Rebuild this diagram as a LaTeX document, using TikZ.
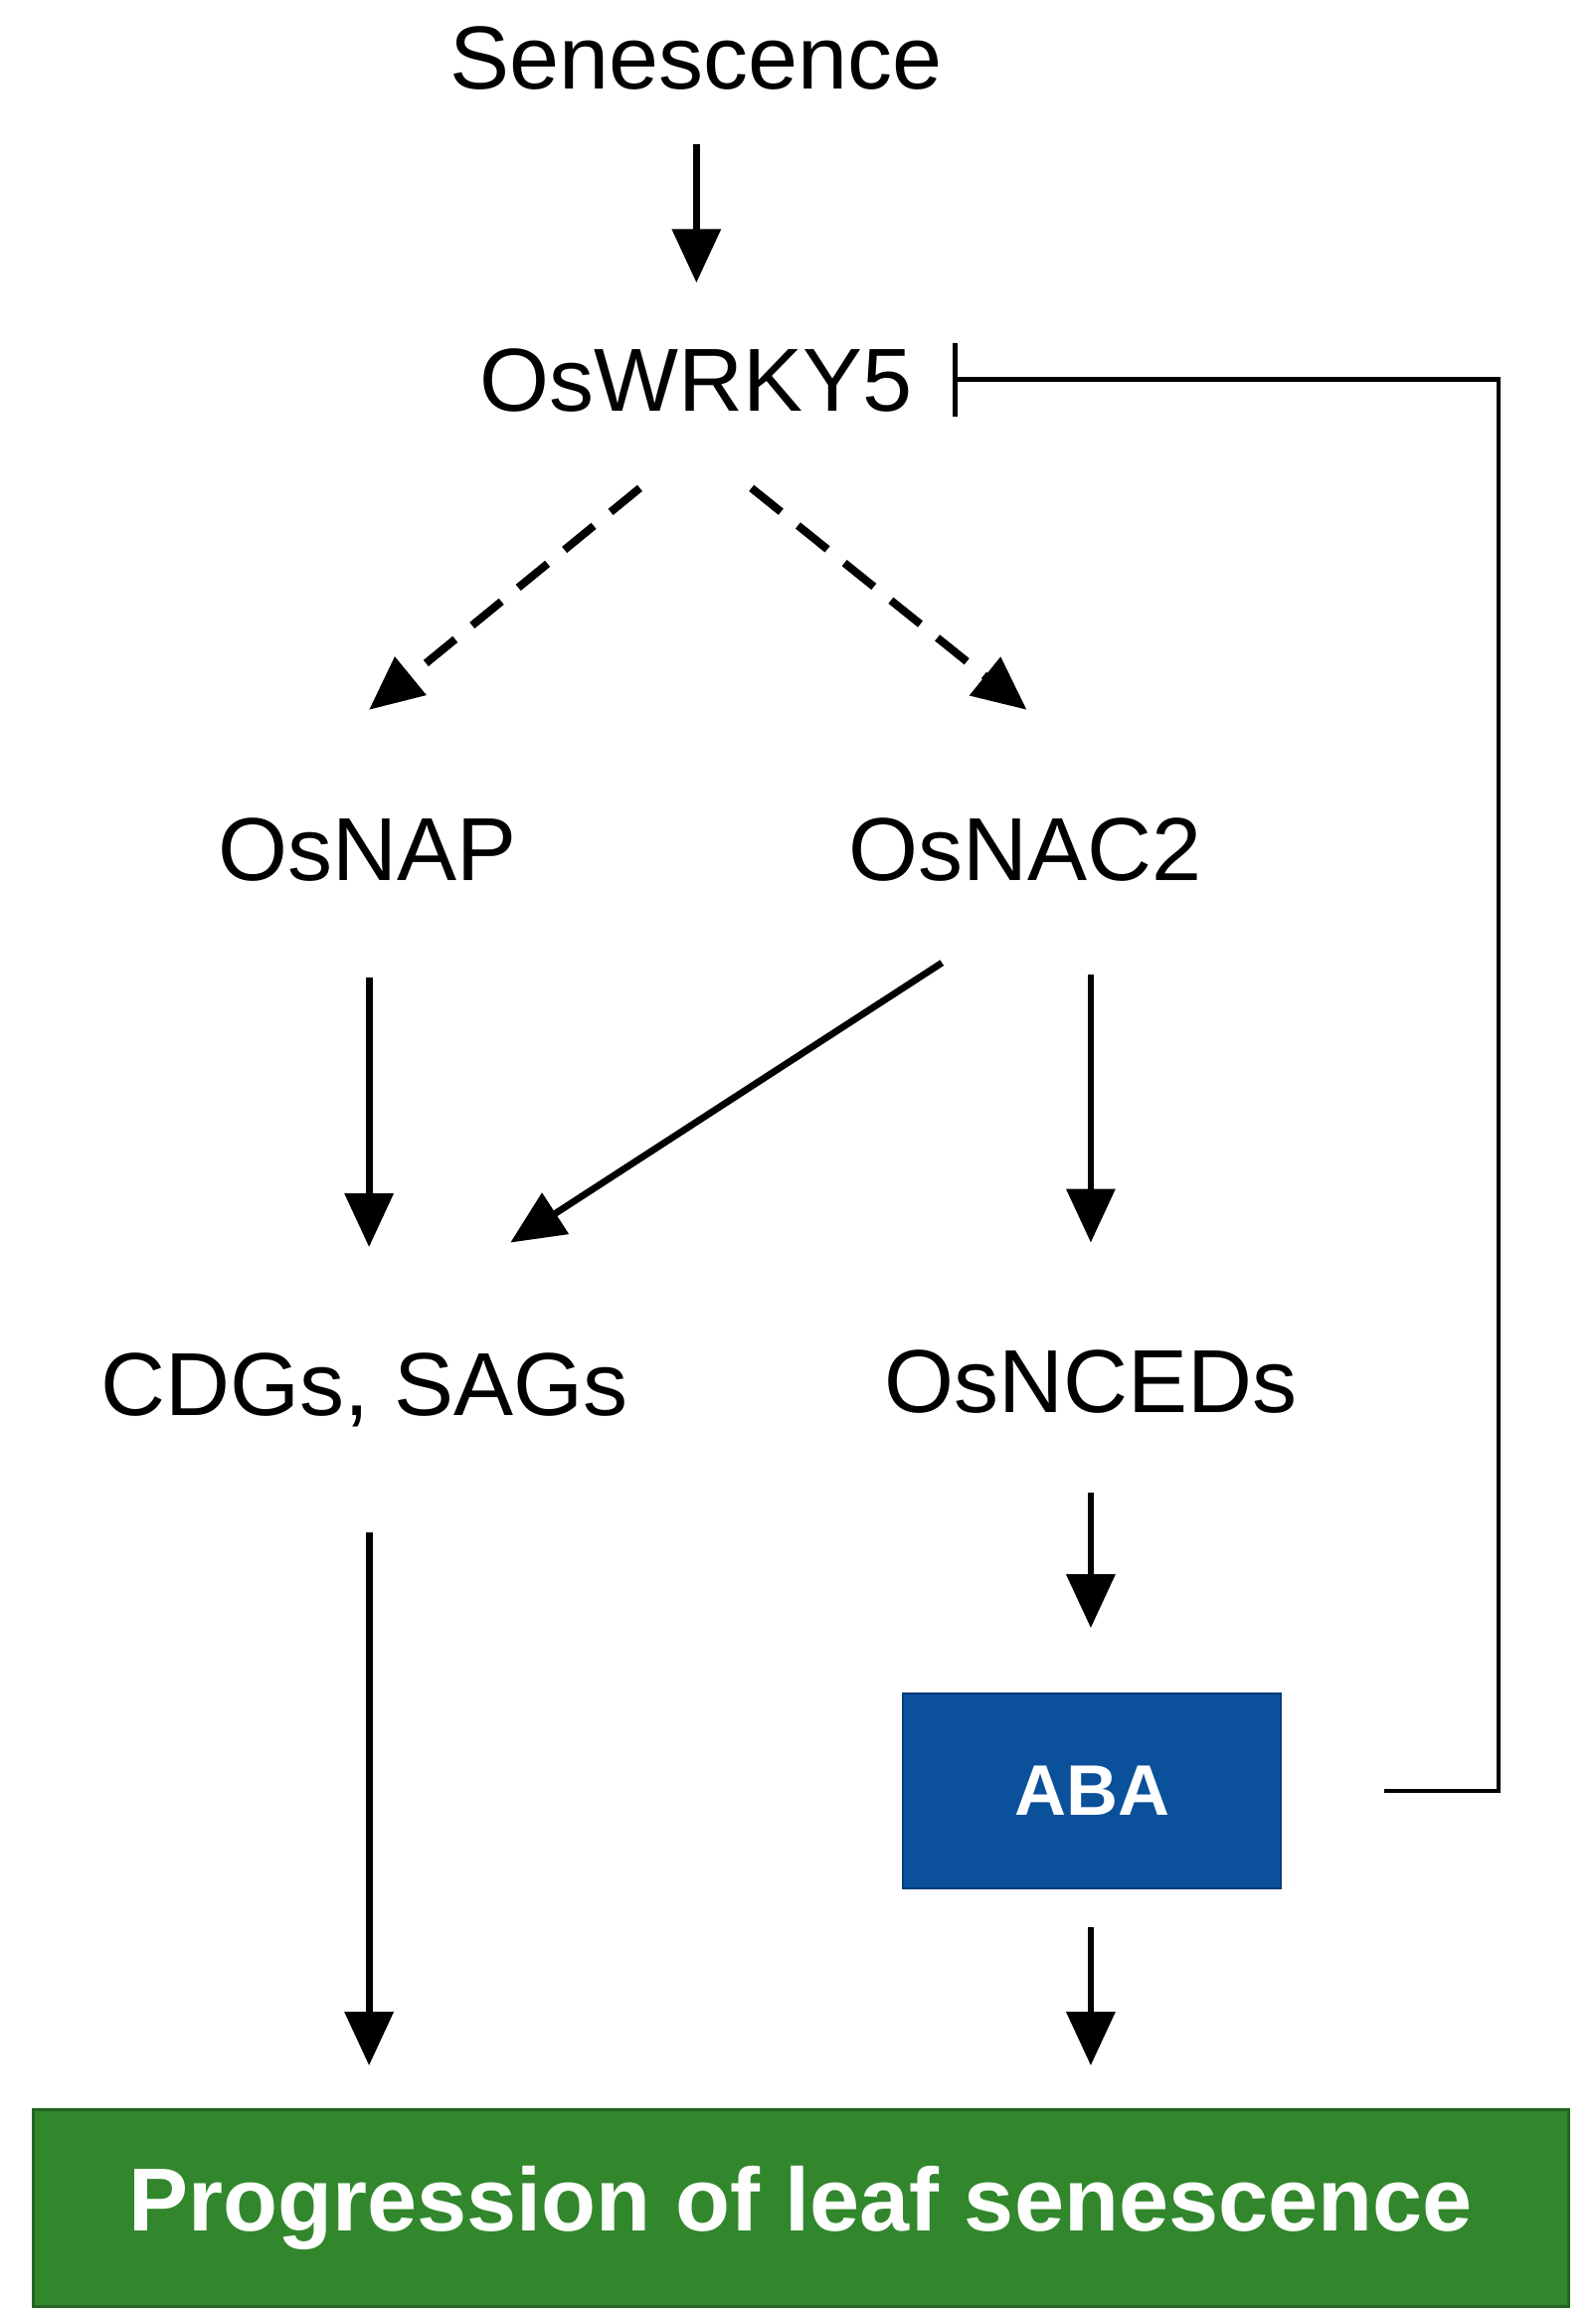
\documentclass[tikz,border=0pt]{standalone}
\usepackage{fontspec}
\setmainfont{Liberation Sans}
\usetikzlibrary{arrows.meta,calc}
\definecolor{abablue}{RGB}{10,80,155}
\definecolor{ababorder}{RGB}{8,60,120}
\definecolor{progreen}{RGB}{50,135,45}
\definecolor{progborder}{RGB}{35,100,35}
\begin{document}
\begin{tikzpicture}[x=0.7482pt,y=-0.7482pt,
  lbl/.style={inner sep=0pt, font=\fontsize{45}{54}\selectfont, text height=32.2pt, text depth=0pt},
  arr/.style={line width=3.4pt, -{Triangle[length=27pt,width=24pt]}},
  darr/.style={arr, line width=4pt, dash pattern=on 19pt off 11pt},
  fb/.style={line width=2.4pt, -{Bar[width=37pt]}},
  abox/.style={fill=abablue, draw=ababorder, line width=1pt, minimum width=190pt, minimum height=98pt, inner sep=0pt, text=white, font=\fontsize{36}{42}\selectfont\bfseries},
  pbox/.style={fill=progreen, draw=progborder, line width=1.5pt, minimum width=772pt, minimum height=99pt, inner sep=0pt, text=white, font=\fontsize{45}{54}\selectfont\bfseries}]
\useasboundingbox (0,0) rectangle (1072,1553);

\node[lbl] (sen) at (468,38.5) {Senescence};
\node[lbl] (wrky) at (468,255) {OsWRKY5};
\node[lbl] (nap) at (247,570) {OsNAP};
\node[lbl] (nac) at (689,570) {OsNAC2};
\node[lbl] (cdg) at (245,930) {CDGs, SAGs};
\node[lbl] (nced) at (733,928) {OsNCEDs};
\node[abox] (aba) at (734,1203.5) {ABA};
\node[pbox] (prog) at (538,1484) {Progression of leaf senescence};

\draw[arr] ($(sen.center)+(0,58.5)$) -- ($(wrky.center)+(0,-65)$);
\draw[darr] ($(wrky.center)+(-38,73)$) -- ($(nap.center)+(1,-93)$);
\draw[darr] ($(wrky.center)+(37,73)$) -- ($(nac.center)+(1,-93)$);
\draw[arr] ($(nap.center)+(1,87)$) -- ($(cdg.center)+(3,-92)$);
\draw[arr] ($(nac.center)+(-56,77)$) -- ($(cdg.center)+(98,-95)$);
\draw[arr] ($(nac.center)+(44,85)$) -- ($(nced.center)+(0,-93)$);
\draw[arr] ($(nced.center)+(0,75)$) -- ($(aba.center)+(-1,-109.5)$);
\draw[arr] ($(cdg.center)+(3,100)$) -- ($(prog.center)+(-290,-96)$);
\draw[arr] ($(aba.center)+(-1,91.5)$) -- ($(prog.center)+(195,-96)$);
\draw[fb] ($(aba.center)+(196,0)$) -| ($(wrky.center)+(539,0)$) -- ($(wrky.center)+(172,0)$);
\end{tikzpicture}
\end{document}
